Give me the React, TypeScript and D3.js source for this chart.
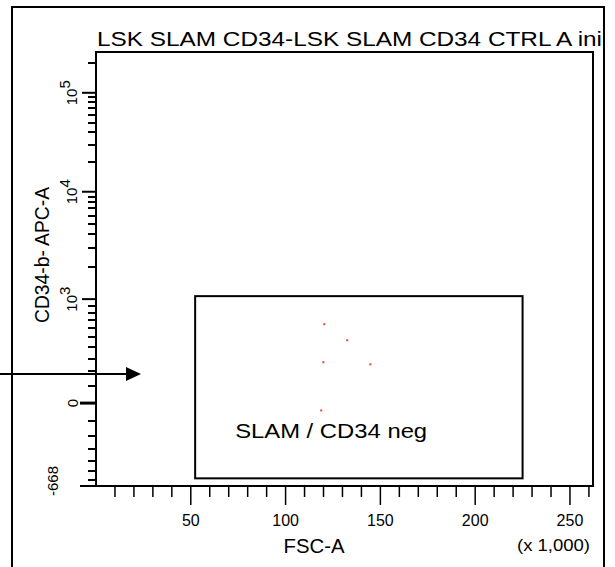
import React from 'react';
import * as d3 from 'd3';

// ---- data ----
const title = 'LSK SLAM CD34-LSK SLAM CD34 CTRL A ini';
const xLabel = 'FSC-A';
const xUnitLabel = '(x 1,000)';
const yLabel = 'CD34-b- APC-A';
const gateLabel = 'SLAM / CD34 neg';

const xMin = 0;
const xMax = 262.144; // FSC-A in thousands
const xMajorTicks = [50, 100, 150, 200, 250];
const xMinorTicks = [10, 20, 30, 40, 60, 70, 80, 90, 110, 120, 130, 140, 160, 170, 180, 190, 210, 220, 230, 240, 260];

const yMin = -668;
const yMax = 262144;
const yDecades = [1000, 10000, 100000];
const yExponents = ['3', '4', '5'];
const yMinorTicks = [
  -600, -500, -400, -300, -200, -100,
  100, 200, 300, 400, 500, 600, 700, 800, 900,
  2000, 3000, 4000, 5000, 6000, 7000, 8000, 9000,
  20000, 30000, 40000, 50000, 60000, 70000, 80000, 90000,
  200000,
];

const gateX = [52.3, 225];
const gateY = [-580, 1066];

const eventsFSC = [120.4, 132.5, 119.9, 144.7, 118.8];
const eventsAPC = [651, 471, 270, 253, -39];

// ---- layout ----
const W = 615;
const H = 567;
const plotL = 96;
const plotR = 593;
const plotT = 52;
const plotB = 486;

export default function App() {
  const x = d3.scaleLinear().domain([xMin, xMax]).range([plotL, plotR]);
  const zeroPx = plotB - (plotB - plotT) * 0.191;
  const e3Px = plotB - (plotB - plotT) * 0.4306;
  const e4Px = plotB - (plotB - plotT) * 0.678;
  const e5Px = plotB - (plotB - plotT) * 0.906;
  const yLow = d3.scaleSymlog().constant(500).domain([yMin, 0, 1000]).range([plotB, zeroPx, e3Px]);
  const yHigh = d3.scaleLog().domain([1000, 10000, 100000, yMax]).range([e3Px, e4Px, e5Px, plotT]);
  const y = (v: number): number => Number(v >= 1000 ? yHigh(v) : yLow(v));

  const minorPath = yMinorTicks
    .map((t) => {
      const p = Math.round(y(t));
      return `M${plotL - 8},${p}H${plotL}`;
    })
    .join('');

  const font = 'Liberation Sans, Arial, sans-serif';

  return (
    <svg width={W} height={H} style={{ position: 'fixed', left: 0, top: 0, background: '#fff' }} fontFamily={font}>
      <rect x={0} y={0} width={W} height={H} fill="#fff" />
      {/* outer frame */}
      <path d={`M12,${H + 2} V7 H604 V${H + 2}`} fill="none" stroke="#000" strokeWidth={2} />

      {/* title */}
      <text x={97} y={46} fontSize={20} textLength={505} lengthAdjust="spacingAndGlyphs">{title}</text>

      {/* plot frame */}
      <path d={`M${plotL},${plotB} V${plotT} H${plotR} V${plotB}`} fill="none" stroke="#000" strokeWidth={2} />
      <line x1={80} x2={plotR + 1} y1={plotB} y2={plotB} stroke="#000" strokeWidth={2} />

      {/* x ticks */}
      {xMinorTicks.map((t) => (
        <line key={'xm' + t} x1={x(t)} x2={x(t)} y1={plotB} y2={plotB + 11} stroke="#000" strokeWidth={1.5} />
      ))}
      {xMajorTicks.map((t) => (
        <g key={'xM' + t}>
          <line x1={x(t)} x2={x(t)} y1={plotB} y2={plotB + 19} stroke="#000" strokeWidth={1.5} />
          <text x={x(t)} y={526} fontSize={16} textAnchor="middle">{t}</text>
        </g>
      ))}
      <text x={314} y={553} fontSize={20} textAnchor="middle" textLength={61} lengthAdjust="spacingAndGlyphs">{xLabel}</text>
      <text x={517} y={551} fontSize={16} textLength={73} lengthAdjust="spacingAndGlyphs">{xUnitLabel}</text>

      {/* y ticks */}
      <path d={minorPath} fill="none" stroke="#000" strokeWidth={2} />
      {yDecades.map((t, i) => (
        <g key={'yM' + t}>
          <line x1={plotL - 14} x2={plotL} y1={y(t)} y2={y(t)} stroke="#000" strokeWidth={2} />
          <text transform={`translate(77,${y(t)}) rotate(-90)`} fontSize={15} textAnchor="middle">
            10<tspan dy={-7}>{yExponents[i]}</tspan>
          </text>
        </g>
      ))}
      <line x1={plotL - 16} x2={plotL} y1={y(0)} y2={y(0)} stroke="#000" strokeWidth={3} />
      <text transform={`translate(78,${y(0)}) rotate(-90)`} fontSize={15} textAnchor="middle">0</text>
      <text transform={`translate(58,${y(yMin) - 5}) rotate(-90)`} fontSize={15} textAnchor="middle">{yMin}</text>
      <text transform={`translate(49,255) rotate(-90)`} fontSize={20} textAnchor="middle" textLength={136} lengthAdjust="spacingAndGlyphs">{yLabel}</text>

      {/* gate */}
      <rect x={x(gateX[0])} y={y(gateY[1])} width={x(gateX[1]) - x(gateX[0])} height={y(gateY[0]) - y(gateY[1])} fill="none" stroke="#000" strokeWidth={2} />
      <text x={x(gateX[0]) + 40} y={438} fontSize={21} textLength={192} lengthAdjust="spacingAndGlyphs">{gateLabel}</text>

      {/* events */}
      {eventsFSC.map((v, i) => (
        <rect key={'e' + i} x={x(v) - 1} y={y(eventsAPC[i]) - 1} width={2} height={2} fill="#ee4422" />
      ))}

      {/* arrow */}
      <line x1={0} x2={128} y1={374} y2={374} stroke="#000" strokeWidth={2} />
      <path d="M126,367 L141,374 L126,381 Z" fill="#000" />
    </svg>
  );
}
